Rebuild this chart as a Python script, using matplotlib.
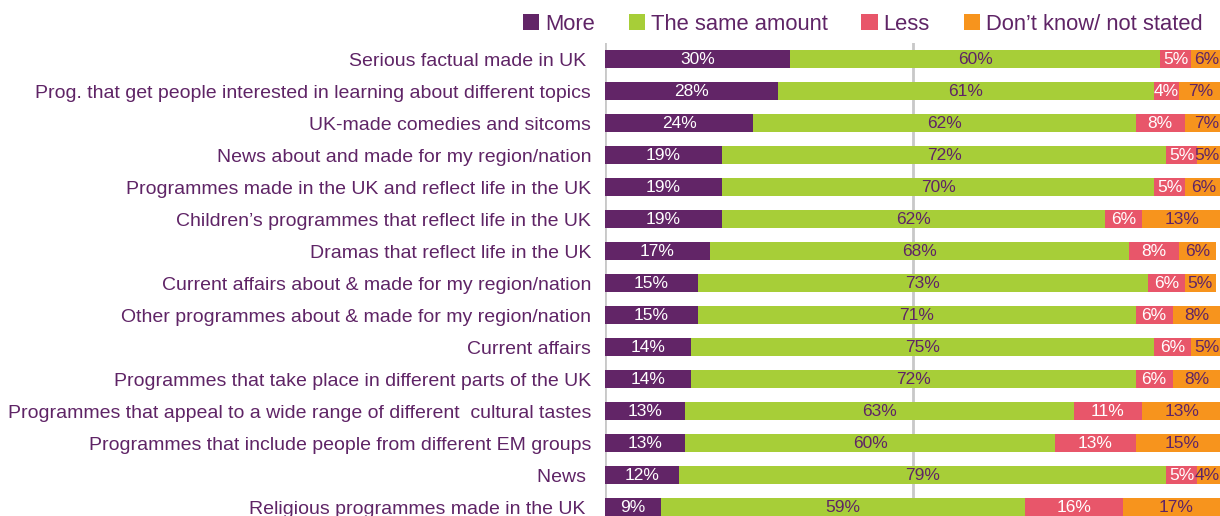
import matplotlib.pyplot as plt
import numpy as np
from matplotlib.patches import Patch

plt.rcParams['font.family'] = ['Liberation Sans', 'DejaVu Sans']

categories = [
    "Serious factual made in UK ",
    "Prog. that get people interested in learning about different topics",
    "UK-made comedies and sitcoms",
    "News about and made for my region/nation",
    "Programmes made in the UK and reflect life in the UK",
    "Children\u2019s programmes that reflect life in the UK",
    "Dramas that reflect life in the UK",
    "Current affairs about & made for my region/nation",
    "Other programmes about & made for my region/nation",
    "Current affairs",
    "Programmes that take place in different parts of the UK",
    "Programmes that appeal to a wide range of different  cultural tastes",
    "Programmes that include people from different EM groups",
    "News ",
    "Religious programmes made in the UK ",
]
more = [30, 28, 24, 19, 19, 19, 17, 15, 15, 14, 14, 13, 13, 12, 9]
same = [60, 61, 62, 72, 70, 62, 68, 73, 71, 75, 72, 63, 60, 79, 59]
less = [5, 4, 8, 5, 5, 6, 8, 6, 6, 6, 6, 11, 13, 5, 16]
dont_know = [6, 7, 7, 5, 6, 13, 6, 5, 8, 5, 8, 13, 15, 4, 17]

series = [
    ("More", more, "#622567", "white"),
    ("The same amount", same, "#A7CE38", "#5F2466"),
    ("Less", less, "#E8566A", "white"),
    ("Don\u2019t know/ not stated", dont_know, "#F7941D", "#5F2466"),
]
text_col = "#5F2466"

fig = plt.figure(figsize=(12.2, 5.16), dpi=100)
ax = fig.add_axes([0.4959, -0.0136, 0.5057, 0.9302])

y = np.arange(len(categories))
left = np.zeros(len(categories))
for name, vals, col, lab_col in series:
    vals = np.array(vals, dtype=float)
    ax.barh(y, vals, left=left, height=0.58, color=col, zorder=3)
    for yi, l, v in zip(y, left, vals):
        # keep labels of the last slim segments inside the canvas
        xc = min(l + v / 2, 97.6)
        ax.text(xc, yi, f"{int(v)}%", ha="center", va="center",
                color=lab_col, fontsize=12.5, zorder=4, clip_on=False)
    left += vals

ax.set_xlim(0, 100)
ax.set_ylim(len(categories) - 0.5, -0.5)
ax.axvline(50, color="#c8c8c8", lw=2, zorder=1)
ax.axvline(0, color="#c8c8c8", lw=2, zorder=1)

ax.set_yticks(y)
ax.set_yticklabels(categories, fontsize=14, color=text_col)
ax.tick_params(axis="y", length=0, pad=10)
ax.set_xticks([])
for s in ax.spines.values():
    s.set_visible(False)

handles = [Patch(facecolor=c, label=n) for n, _, c, _ in series]
leg = fig.legend(handles=handles, loc="center", bbox_to_anchor=(0.707, 0.953),
                 ncol=4, frameon=False, fontsize=15.8, handlelength=0.75,
                 handleheight=0.75, handletextpad=0.25, columnspacing=1.55)
for t in leg.get_texts():
    t.set_color(text_col)

fig.savefig("out.png", dpi=100)
